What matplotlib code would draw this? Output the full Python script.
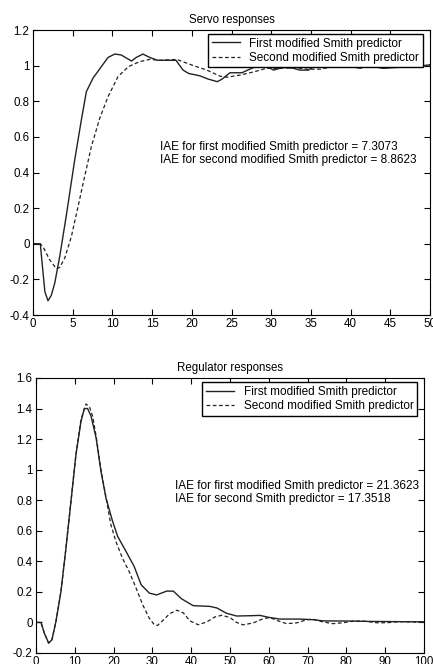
import numpy as np
import matplotlib
matplotlib.use("Agg")
import matplotlib.pyplot as plt

# servo responses
servo_t1 = [0, 0.92, 1.15, 1.5, 1.89, 2.3, 2.73, 3.36, 4.2, 5.25, 6.09, 6.72, 7.56, 8.6,
            9.45, 10.3, 11.1, 12.4, 13.0, 13.85, 14.7, 15.7, 18.0, 18.9, 19.6, 21.0, 22.1,
            23.2, 23.8, 24.8, 26.3, 27.8, 29.2, 30.3, 31.5, 32.8, 33.6, 34.7, 35.5, 37.4,
            39.5, 41.2, 42.0, 44.1, 45.8, 48.3, 50.0]
servo_y1 = [0, 0, -0.11, -0.27, -0.32, -0.29, -0.223, -0.073, 0.16, 0.47, 0.695, 0.854,
            0.93, 0.994, 1.046, 1.065, 1.06, 1.026, 1.046, 1.065, 1.046, 1.03, 1.03, 0.975,
            0.956, 0.943, 0.924, 0.91, 0.924, 0.96, 0.96, 0.99, 1.0, 0.975, 0.99, 0.985,
            0.975, 0.975, 1.0, 1.0, 1.0, 0.985, 1.0, 0.985, 0.99, 0.995, 1.005]
servo_t2 = [0, 0.92, 1.26, 2.1, 2.94, 3.36, 4.0, 4.83, 5.67, 6.5, 7.35, 8.4, 9.45, 10.7,
            12.0, 13.4, 14.7, 16.0, 18.1, 20.2, 21.9, 23.6, 24.4, 26.1, 27.8, 29.4, 31.1,
            32.8, 34.5, 36.2, 37.8, 39.9, 42.0, 46.2, 50.0]
servo_y2 = [0, 0, -0.017, -0.09, -0.14, -0.133, -0.08, 0.04, 0.208, 0.377, 0.545, 0.704,
            0.826, 0.938, 0.994, 1.022, 1.035, 1.03, 1.035, 1.0, 0.975, 0.94, 0.935, 0.947,
            0.965, 0.985, 0.985, 0.99, 0.98, 0.98, 0.995, 1.0, 1.0, 0.998, 1.0]

# regulator responses
reg_t1 = [0, 1.29, 2.15, 3.26, 4.12, 5.15, 6.44, 7.73, 9.02, 10.3, 11.6, 12.46, 13.3, 14.2,
          15.5, 16.75, 18.04, 19.76, 21.05, 23.2, 25.3, 27.1, 29.2, 31.1, 33.7, 35.4, 37.5,
          40.5, 44.8, 46.6, 49.1, 51.7, 55.2, 57.7, 60.3, 62.9, 68.0, 71.5, 74.0, 80.9,
          85.2, 93.8, 100]
reg_y1 = [0, 0, -0.07, -0.135, -0.113, 0.007, 0.203, 0.487, 0.793, 1.098, 1.316, 1.40, 1.40,
          1.35, 1.207, 0.989, 0.814, 0.661, 0.563, 0.465, 0.367, 0.247, 0.192, 0.18, 0.205,
          0.205, 0.155, 0.11, 0.105, 0.095, 0.06, 0.042, 0.044, 0.046, 0.032, 0.022, 0.022,
          0.018, 0.01, 0.009, 0.007, 0.005, 0.004]
reg_t2 = [0, 1.29, 2.15, 3.26, 4.12, 5.15, 6.44, 7.73, 9.02, 10.3, 11.6, 12.9, 13.8, 14.6,
          15.5, 16.75, 18.0, 19.3, 20.6, 22.3, 24.0, 25.8, 27.5, 29.2, 30.5, 31.3, 32.8,
          34.5, 36.3, 38.0, 39.7, 41.8, 44.0, 46.1, 47.9, 50.0, 51.7, 53.4, 56.0, 58.6,
          60.3, 62.0, 64.6, 67.2, 69.8, 71.5, 74.0, 76.6, 79.2, 81.8, 84.3, 87.8, 90.4,
          93.8, 100]
reg_y2 = [0, 0, -0.07, -0.135, -0.113, 0.007, 0.203, 0.487, 0.793, 1.10, 1.33, 1.43, 1.41,
          1.35, 1.22, 1.0, 0.825, 0.64, 0.53, 0.42, 0.334, 0.225, 0.116, 0.028, -0.015,
          -0.02, 0.015, 0.058, 0.08, 0.062, 0.01, -0.015, 0.003, 0.036, 0.047, 0.032, 0.0,
          -0.016, -0.003, 0.025, 0.032, 0.014, -0.008, -0.003, 0.018, 0.02, 0.003, -0.008,
          -0.002, 0.009, 0.009, -0.002, -0.002, 0.005, 0.001]

labels = ["First modified Smith predictor", "Second modified Smith predictor"]

plt.rcParams['font.family'] = ['Liberation Sans', 'DejaVu Sans']

fig = plt.figure(figsize=(4.33, 6.64), dpi=100)


def style_axes(ax, xlim, ylim, xticks, yticks):
    ax.set_xlim(xlim)
    ax.set_ylim(ylim)
    ax.set_xticks(xticks)
    ax.set_yticks(yticks)
    ax.set_xticklabels([f"{v:g}" for v in xticks])
    ax.set_yticklabels([f"{v:g}" for v in yticks])
    ax.tick_params(direction='in', top=True, right=True, length=4, width=0.8,
                   labelsize=8.3, pad=2.5)
    for s in ax.spines.values():
        s.set_linewidth(0.8)


def add_legend(ax, anchor):
    ax.legend(loc='upper right', bbox_to_anchor=anchor, fontsize=8.5, fancybox=False,
              edgecolor='black', framealpha=1, borderaxespad=0, borderpad=0.3,
              handlelength=2.4, handletextpad=0.8, labelspacing=0.2)


# servo
ax1 = fig.add_axes([0.0762, 0.5256, 0.917, 0.4292])
ax1.plot(servo_t1, servo_y1, color='#222222', lw=1.0, label=labels[0])
ax1.plot(servo_t2, servo_y2, color='#222222', lw=0.9, ls=(0, (3, 2)), label=labels[1])
style_axes(ax1, (0, 50), (-0.4, 1.2), np.arange(0, 51, 5), np.round(np.arange(-0.4, 1.21, 0.2), 1))
ax1.set_title("Servo responses", fontsize=8.3, pad=5)
add_legend(ax1, (0.982, 0.986))
ax1.text(0.32, 0.566, "IAE for first modified Smith predictor = 7.3073\n"
         "IAE for second modified Smith predictor = 8.8623",
         transform=ax1.transAxes, fontsize=8.5, va='center', ha='left', linespacing=1.1)

# regulator
ax2 = fig.add_axes([0.0831, 0.01657, 0.896, 0.4142])
ax2.plot(reg_t1, reg_y1, color='#222222', lw=1.0, label=labels[0])
ax2.plot(reg_t2, reg_y2, color='#222222', lw=0.9, ls=(0, (3, 2)), label=labels[1])
style_axes(ax2, (0, 100), (-0.2, 1.6), np.arange(0, 101, 10), np.round(np.arange(-0.2, 1.61, 0.2), 1))
ax2.set_title("Regulator responses", fontsize=8.3, pad=5)
add_legend(ax2, (0.982, 0.985))
ax2.text(0.358, 0.584, "IAE for first modified Smith predictor = 21.3623\n"
         "IAE for second Smith predictor = 17.3518",
         transform=ax2.transAxes, fontsize=8.5, va='center', ha='left', linespacing=1.1)

fig.savefig("out.png", dpi=100)
